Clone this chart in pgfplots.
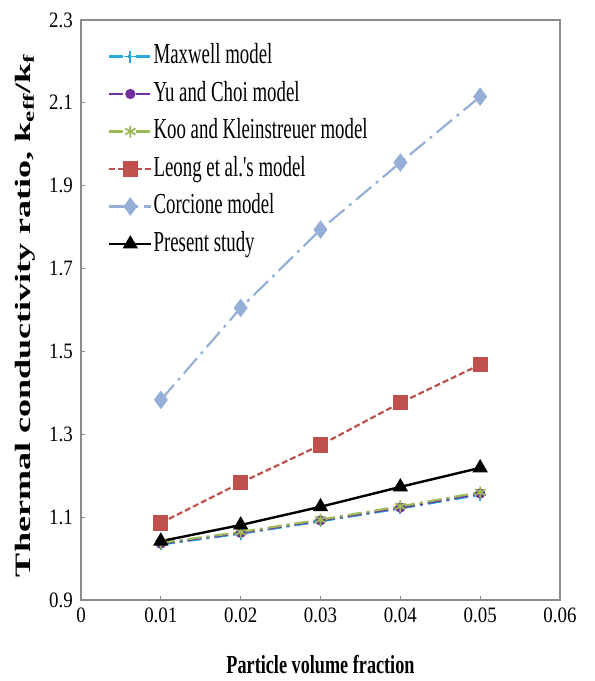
\documentclass[border=0pt]{standalone}
\usepackage{fontspec}
\setmainfont{Liberation Serif}
\newfontfamily\tickfam{Liberation Serif}[FakeStretch=0.86]
\newfontfamily\legfam{Liberation Serif}[FakeStretch=0.65]
\newfontfamily\xlabfam{Liberation Serif}[FakeStretch=0.70]
\newfontfamily\ylabfam{Liberation Serif}[FakeStretch=1.64]
\usepackage{pgfplots}
\pgfplotsset{compat=1.18}
\definecolor{cMax}{RGB}{40,170,220}
\definecolor{cYu}{RGB}{112,48,160}
\definecolor{cKoo}{RGB}{155,187,89}
\definecolor{cLeo}{RGB}{192,80,77}
\definecolor{cCor}{RGB}{149,175,215}
\definecolor{axgray}{RGB}{140,140,140}
\begin{document}
\begin{tikzpicture}
\begin{axis}[
  scale only axis,
  width=479pt, height=580pt,
  xmin=0, xmax=0.06, ymin=0.9, ymax=2.3,
  scaled x ticks=false, scaled y ticks=false,
  xtick={0,0.01,0.02,0.03,0.04,0.05,0.06},
  xticklabels={0,0.01,0.02,0.03,0.04,0.05,0.06},
  ytick={0.9,1.1,1.3,1.5,1.7,1.9,2.1,2.3},
  yticklabels={0.9,1.1,1.3,1.5,1.7,1.9,2.1,2.3},
  tick pos=left, tick align=inside,
  major tick length=4pt,
  tick style={axgray, line width=0.8pt},
  axis line style={axgray, line width=1.2pt},
  xticklabel style={font=\fontsize{22}{24}\selectfont\tickfam, inner sep=0pt, anchor=north, yshift=-8pt},
  yticklabel style={font=\fontsize{22}{24}\selectfont\tickfam, inner sep=0pt, anchor=east, xshift=-8pt},
  xlabel={Particle volume fraction},
  xlabel style={font=\fontsize{26}{28}\selectfont\xlabfam\bfseries, at={(axis description cs:0.5,-0.112)}, anchor=center},
  ylabel={Thermal conductivity ratio, k\textsubscript{eff}/k\textsubscript{f}},
  ylabel style={font=\fontsize{22}{24}\selectfont\ylabfam\bfseries, at={(axis description cs:-0.117,0.49)}, anchor=center},
  legend style={draw=none, fill=none, at={(axis description cs:0.05,0.965)}, anchor=north west,
    font=\fontsize{29}{31}\selectfont\legfam, row sep=9.5pt,
    nodes={inner sep=1pt, text height=20pt, text depth=6pt}},
  legend cell align=left,
  legend image code/.code={\draw[mark repeat=2,mark phase=2] plot coordinates {(0pt,0pt)(21pt,0pt)(42pt,0pt)};},
]
\addplot[cMax, line width=2.2pt, dash pattern=on 14pt off 5pt on 3pt off 5pt, mark=+, mark size=6pt, mark options={solid, line width=1.8pt}]
  coordinates {(0.01,1.034)(0.02,1.060)(0.03,1.090)(0.04,1.121)(0.05,1.154)};
\addlegendentry{Maxwell model}
\addplot[cYu, line width=2.2pt, dash pattern=on 14pt off 5pt on 3pt off 5pt, mark=*, mark size=4pt, mark options={solid}]
  coordinates {(0.01,1.036)(0.02,1.062)(0.03,1.092)(0.04,1.123)(0.05,1.157)};
\addlegendentry{Yu and Choi model}
\addplot[cKoo, line width=2.2pt, dash pattern=on 14pt off 5pt on 3pt off 5pt, mark=asterisk, mark size=6pt, mark options={solid, line width=1.8pt}]
  coordinates {(0.01,1.038)(0.02,1.064)(0.03,1.094)(0.04,1.126)(0.05,1.160)};
\addlegendentry{Koo and Kleinstreuer model}
\addplot[cLeo, line width=2.2pt, dash pattern=on 6pt off 3pt, mark=square*, mark size=6.5pt, mark options={solid}]
  coordinates {(0.01,1.086)(0.02,1.183)(0.03,1.274)(0.04,1.376)(0.05,1.468)};
\addlegendentry{Leong et al.'s model}
\addplot[cCor, line width=2.2pt, dash pattern=on 20pt off 6pt on 3pt off 6pt, mark=diamond*, mark size=7.5pt, mark options={solid}]
  coordinates {(0.01,1.383)(0.02,1.605)(0.03,1.794)(0.04,1.956)(0.05,2.115)};
\addlegendentry{Corcione model}
\addplot[black, line width=2.4pt, mark=triangle*, mark size=6.5pt, mark options={solid}]
  coordinates {(0.01,1.042)(0.02,1.081)(0.03,1.125)(0.04,1.173)(0.05,1.219)};
\addlegendentry{Present study}
\coordinate (SW) at (rel axis cs:0,0);
\coordinate (NE) at (rel axis cs:1,1);
\end{axis}
\pgfresetboundingbox
\path ([shift={(-81pt,-81pt)}]SW) rectangle ([shift={(35pt,20pt)}]NE);
\end{tikzpicture}
\end{document}
